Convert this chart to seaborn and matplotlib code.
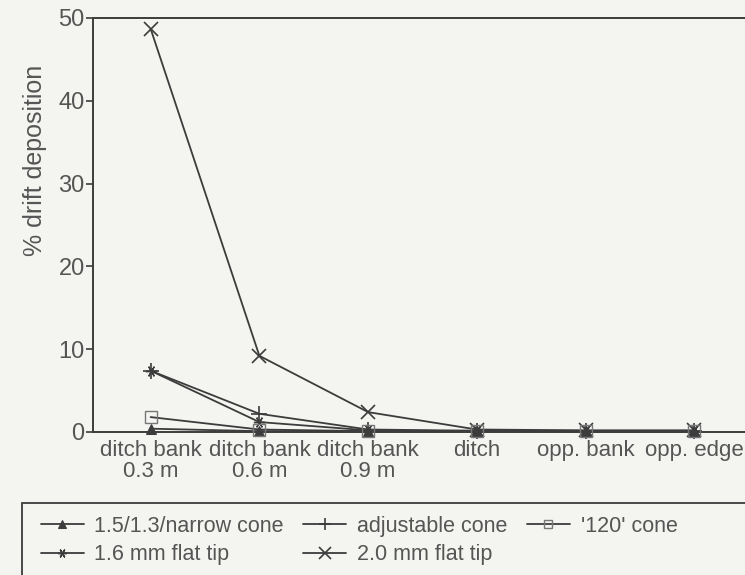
import matplotlib
matplotlib.use("Agg")
import matplotlib.pyplot as plt
import seaborn as sns
import numpy as np
import pandas as pd
from matplotlib.patches import Rectangle

categories = ["ditch bank\n0.3 m", "ditch bank\n0.6 m", "ditch bank\n0.9 m",
              "ditch", "opp. bank", "opp. edge"]
narrow_cone = [0.4, 0.1, 0.1, 0.15, 0.15, 0.15]
adjustable_cone = [7.4, 2.2, 0.3, 0.15, 0.1, 0.1]
cone_120 = [1.8, 0.3, 0.1, 0.1, 0.1, 0.1]
flat_16 = [7.4, 1.2, 0.2, 0.1, 0.1, 0.1]
flat_20 = [48.7, 9.2, 2.4, 0.3, 0.2, 0.2]
y_ticks = [0, 10, 20, 30, 40, 50]

sns.set_theme(style="ticks")
plt.rcParams['font.family'] = ['Liberation Sans', 'DejaVu Sans']

BG = "#f4f4f1"
LC = "#3c3c3c"
TC = "#555555"

fig = plt.figure(figsize=(7.45, 5.75), dpi=100, facecolor=BG)
ax = fig.add_axes([93/745, 1-432/575, (752-93)/745, (432-18)/575])
ax.set_facecolor(BG)

x = np.arange(len(categories))
series = [
    ("1.5/1.3/narrow cone", narrow_cone, dict(marker="^", ms=7, mfc=LC, mec=LC)),
    ("1.6 mm flat tip", flat_16, dict(marker=(6, 2, 90), ms=8, mfc=LC, mec=LC, mew=1.0)),
    ("adjustable cone", adjustable_cone, dict(marker="+", ms=11, mfc=LC, mec=LC, mew=1.2)),
    ("2.0 mm flat tip", flat_20, dict(marker="x", ms=10, mfc=LC, mec=LC, mew=1.2)),
    ("'120' cone", cone_120, dict(marker="s", ms=8, mfc="none", mec="#777777", mew=1.0)),
]
handles = []
for name, vals, st in series:
    df = pd.DataFrame({"x": x, "y": vals})
    sns.lineplot(data=df, x="x", y="y", ax=ax, color=LC, lw=1.3, label=name,
                 legend=False, clip_on=False, zorder=3, **st)
    handles.append(ax.lines[-1])

ax.set_xlim(-0.53, 5.53)
ax.set_ylim(0, 50)
ax.set_yticks(y_ticks)
ax.set_xticks(x)
ax.set_xticklabels(categories, fontsize=16, color=TC, linespacing=0.95)
ax.set_yticklabels([str(v) for v in y_ticks], fontsize=17, color=TC)
ax.tick_params(axis="x", length=0, pad=6)
ax.tick_params(axis="y", length=5, width=1.2, color=LC, pad=1)
ax.set_xlabel("")
ax.set_ylabel("% drift deposition", fontsize=18, color=TC)
ax.yaxis.set_label_coords(-0.07, 0.657)
for s in ax.spines.values():
    s.set_color(LC)
    s.set_linewidth(1.4)

fig.patches.append(Rectangle((22/745, -0.05), 0.99, 0.05 + 1-503/575,
                             transform=fig.transFigure, fill=False,
                             edgecolor=LC, lw=1.3, clip_on=False))
leg = fig.legend(handles, [s[0] for s in series], loc="upper left",
                 bbox_to_anchor=(32/745, 1-507/575), ncol=3, frameon=False,
                 prop={'family': 'Liberation Sans', 'size': 15.5},
                 handlelength=2.0, handletextpad=0.5, markerscale=0.8,
                 columnspacing=0.9, labelspacing=0.35, borderaxespad=0)
for t in leg.get_texts():
    t.set_color(TC)

fig.savefig("out.png", dpi=100, facecolor=BG)
